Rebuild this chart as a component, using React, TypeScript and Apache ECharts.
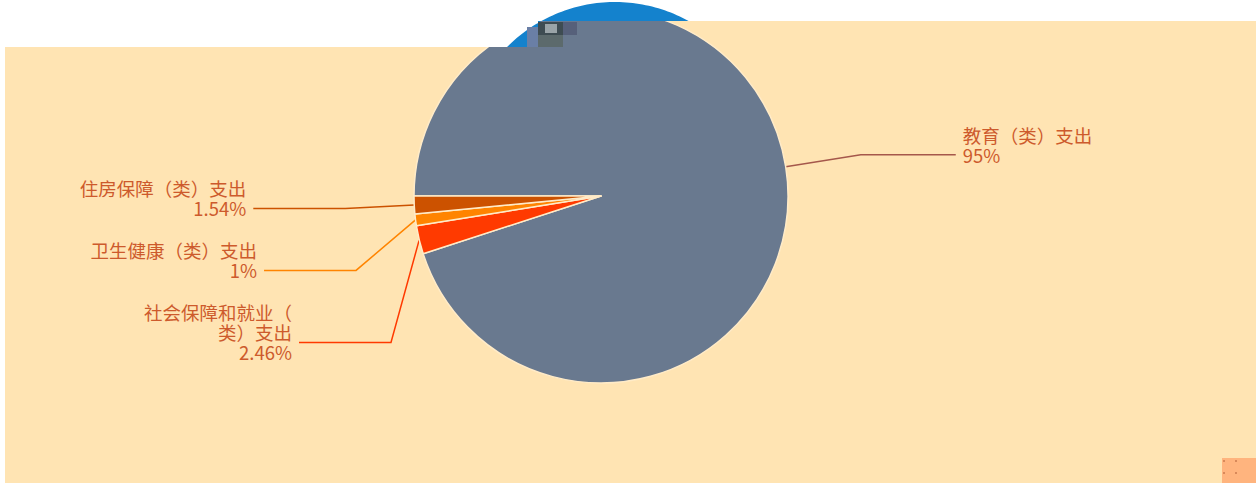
import React, { useEffect, useRef } from 'react';
import * as echarts from 'echarts';

const categories = ['教育（类）支出', '社会保障和就业（类）支出', '卫生健康（类）支出', '住房保障（类）支出'];
const values = [95, 2.46, 1, 1.54];

const sliceColors = ['#69798F', '#FF3A00', '#FF8400', '#CC5200'];
const textColor = '#CD5A2C';
const W = 1256;
const H = 483;
const CX = 601;
const CY = 196;
const R = 187;
const LEN = 69;
const LEN2 = 92;
const DIST = 7;
const TEXT_LIFT = 10;

function bluePolygon(): number[][] {
  const cx = 615, cy = 154, r = 152;
  const yA = 47, yB = 21, xStep = 538;
  const a0 = Math.atan2(yA - cy, -Math.sqrt(r * r - (yA - cy) * (yA - cy)));
  const a1 = Math.atan2(yB - cy, Math.sqrt(r * r - (yB - cy) * (yB - cy)));
  const pts: number[][] = [];
  for (let i = 0; i <= 60; i++) {
    const a = a0 + ((a1 - a0) * i) / 60;
    pts.push([cx + r * Math.cos(a), cy + r * Math.sin(a)]);
  }
  pts.push([xStep, yB]);
  pts.push([xStep, yA]);
  return pts;
}

export default function App() {
  const ref = useRef<HTMLDivElement>(null);
  useEffect(() => {
    if (!ref.current) return;
    const chart = echarts.init(ref.current, undefined, { renderer: 'svg' });
    const data = categories.map((name, i) => {
      const item: any = { name, value: values[i], itemStyle: { color: sliceColors[i] } };
      if (i === 1) item.label = { width: 160, overflow: 'break' };
      if (i === 0) item.labelLine = { length: 76, length2: 95, lineStyle: { color: '#A5574B' } };
      return item;
    });
    chart.setOption({
      animation: false,
      backgroundColor: '#FFE4B3',
      series: [
        {
          type: 'pie',
          center: [CX, CY],
          radius: R,
          startAngle: 180,
          clockwise: true,
          avoidLabelOverlap: true,
          data,
          label: {
            formatter: '{b}\n{d}%',
            color: textColor,
            fontSize: 18.5,
            lineHeight: 20,
            padding: [0, 0, 20, 0],
            fontFamily: 'Noto Sans CJK SC',
            distanceToLabelLine: DIST,
          },
          labelLine: { length: LEN, length2: LEN2, lineStyle: { width: 1.5 } },
          labelLayout: (params: any) => {
            const pts = params.labelLinePoints;
            if (!pts || pts.length < 3) return {};
            const p0 = [pts[0][0], pts[0][1]];
            const y = pts[2][1];
            if (pts[2][0] >= CX) {
              return {
                x: pts[2][0] + DIST,
                y: y - TEXT_LIFT,
                labelLinePoints: [p0, [pts[1][0], pts[1][1]], [pts[2][0], y]],
              };
            }
            const dy = Math.abs(y - CY);
            const rA = R + LEN;
            const dx = Math.sqrt(Math.max(rA * rA - dy * dy, 0));
            const x2 = CX - dx;
            const x3 = x2 - LEN2;
            return {
              x: x3 - DIST,
              y: y - TEXT_LIFT,
              labelLinePoints: [p0, [x2, y], [x3, y]],
            };
          },
          itemStyle: { borderColor: '#FFEBC8', borderWidth: 1.5 },
          emphasis: { disabled: true },
        },
      ],
      graphic: [
        { type: 'rect', z: 100, silent: true, shape: { x: 0, y: 0, width: 5, height: H }, style: { fill: '#ffffff' } },
        { type: 'rect', z: 100, silent: true, shape: { x: 0, y: 0, width: 538, height: 47 }, style: { fill: '#ffffff' } },
        { type: 'rect', z: 100, silent: true, shape: { x: 538, y: 0, width: W - 538, height: 21 }, style: { fill: '#ffffff' } },
        { type: 'polygon', z: 101, silent: true, shape: { points: bluePolygon() }, style: { fill: '#1482CD' } },
        { type: 'rect', z: 102, silent: true, shape: { x: 527, y: 27, width: 11, height: 20 }, style: { fill: '#6A7FA6' } },
        { type: 'rect', z: 102, silent: true, shape: { x: 538, y: 22, width: 25, height: 13 }, style: { fill: '#3E4C52' } },
        { type: 'rect', z: 102, silent: true, shape: { x: 545, y: 24, width: 12, height: 9 }, style: { fill: '#9AA4A8' } },
        { type: 'rect', z: 102, silent: true, shape: { x: 563, y: 22, width: 14, height: 13 }, style: { fill: '#56607A' } },
        { type: 'rect', z: 102, silent: true, shape: { x: 538, y: 35, width: 25, height: 12 }, style: { fill: '#5C6A6C' } },
        { type: 'rect', z: 102, silent: true, shape: { x: 1222, y: 458, width: W - 1222, height: H - 458 }, style: { fill: '#FFB47E' } },
        { type: 'rect', z: 103, silent: true, shape: { x: 1223, y: 460, width: 2, height: 2 }, style: { fill: '#D8895A' } },
        { type: 'rect', z: 103, silent: true, shape: { x: 1235, y: 460, width: 2, height: 2 }, style: { fill: '#D8895A' } },
        { type: 'rect', z: 103, silent: true, shape: { x: 1223, y: 472, width: 2, height: 2 }, style: { fill: '#D8895A' } },
        { type: 'rect', z: 103, silent: true, shape: { x: 1235, y: 472, width: 2, height: 2 }, style: { fill: '#D8895A' } },
      ],
    });
    return () => chart.dispose();
  }, []);
  return (
    <div
      ref={ref}
      style={{ position: 'absolute', left: 0, top: 0, width: W, height: H }}
    />
  );
}
